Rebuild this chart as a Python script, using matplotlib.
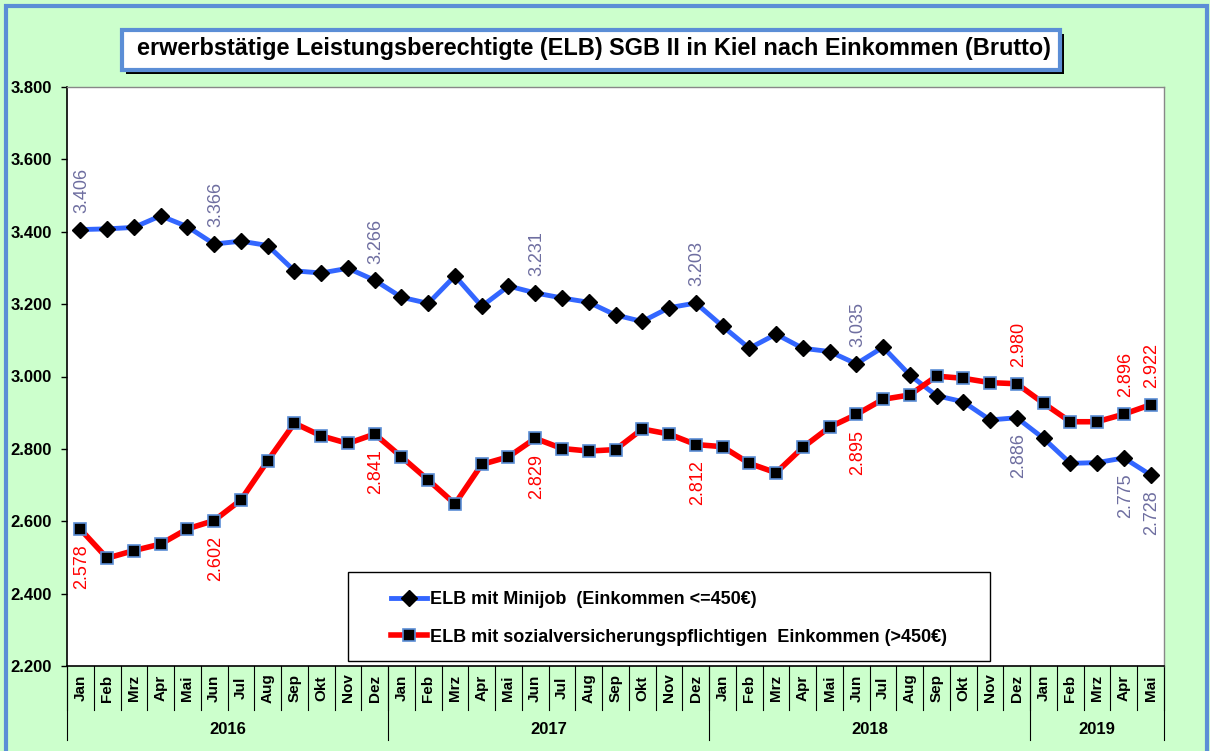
import matplotlib.pyplot as plt
import matplotlib.transforms as mtransforms
from matplotlib.patches import Rectangle
import numpy as np

plt.rcParams['font.family'] = ['Liberation Sans', 'DejaVu Sans']

# Daten
monate = ['Jan', 'Feb', 'Mrz', 'Apr', 'Mai', 'Jun', 'Jul', 'Aug', 'Sep', 'Okt', 'Nov', 'Dez']
jahre = ['2016', '2017', '2018', '2019']
monate_pro_jahr = [12, 12, 12, 5]

minijob = [3406, 3408, 3412, 3444, 3414, 3366, 3374, 3362, 3292, 3286, 3299, 3266,
           3219, 3202, 3278, 3194, 3250, 3231, 3217, 3205, 3170, 3152, 3190, 3203,
           3139, 3078, 3117, 3078, 3069, 3035, 3081, 3004, 2947, 2930, 2880, 2886,
           2829, 2760, 2762, 2775, 2728]
sozial = [2578, 2498, 2519, 2537, 2579, 2602, 2659, 2767, 2871, 2836, 2815, 2841,
          2778, 2714, 2648, 2757, 2778, 2829, 2801, 2794, 2798, 2855, 2841, 2812,
          2806, 2760, 2734, 2804, 2860, 2895, 2937, 2949, 3001, 2995, 2983, 2980,
          2926, 2875, 2875, 2896, 2922]

# beschriftete Punkte: (Index, oben?)
label_minijob = [(0, True), (5, True), (11, True), (17, True), (23, True), (29, True),
                 (35, False), (39, False), (40, False)]
label_sozial = [(0, False), (5, False), (11, False), (17, False), (23, False), (29, False),
                (35, True), (39, True), (40, True)]

titel = 'erwerbstätige Leistungsberechtigte (ELB) SGB II in Kiel nach Einkommen (Brutto)'
leg1 = 'ELB mit Minijob  (Einkommen <=450€)'
leg2 = 'ELB mit sozialversicherungspflichtigen  Einkommen (>450€)'

gruen = '#CCFFCC'
rahmen_blau = '#5B8ED6'
linie_blau = '#3366FF'
text_blau = '#6E6EA0'

def fmt(v):
    return '{:,}'.format(v).replace(',', '.')

W, H = 1210, 751
fig = plt.figure(figsize=(W / 100, H / 100), dpi=100)
fig.patch.set_facecolor(gruen)

# aeusserer Rahmen
fig.patches.append(Rectangle((6 / W, -0.05), 1201 / W, (745 / H) + 0.05,
                             transform=fig.transFigure, fill=False,
                             edgecolor=rahmen_blau, linewidth=3))

ax = fig.add_axes([67 / W, (H - 666) / H, (1164 - 67) / W, (666 - 87) / H])
ax.set_facecolor('white')

n = len(minijob)
x = np.arange(n)

ax.plot(x, minijob, color=linie_blau, linewidth=3.5, marker='D', markersize=8,
        markerfacecolor='black', markeredgecolor='black', label=leg1, zorder=3)
ax.plot(x, sozial, color='red', linewidth=4, marker='s', markersize=9,
        markerfacecolor='black', markeredgecolor=rahmen_blau, markeredgewidth=1.2,
        label=leg2, zorder=3)

for i, oben in label_minijob:
    ax.annotate(fmt(minijob[i]), (x[i], minijob[i]), xytext=(1, 12 if oben else -11),
                textcoords='offset points', rotation=90, ha='center',
                va='bottom' if oben else 'top', color=text_blau, fontsize=13)
for i, oben in label_sozial:
    ax.annotate(fmt(sozial[i]), (x[i], sozial[i]), xytext=(1, 12 if oben else -11),
                textcoords='offset points', rotation=90, ha='center',
                va='bottom' if oben else 'top', color='red', fontsize=13)

ax.set_xlim(-0.5, n - 0.5)
ax.set_ylim(2200, 3800)
ax.set_yticks(np.arange(2200, 3801, 200))
ax.set_yticklabels([fmt(v) for v in range(2200, 3801, 200)], fontweight='bold', fontsize=12)
ax.tick_params(axis='y', direction='out', length=4, width=1, pad=7)
ax.set_xticks([])

for s in ['top', 'right']:
    ax.spines[s].set_color('#888888')
    ax.spines[s].set_linewidth(1)
for s in ['left', 'bottom']:
    ax.spines[s].set_color('black')
    ax.spines[s].set_linewidth(1.2)

# Kategorienachse: Monate und Jahre
trans = mtransforms.blended_transform_factory(ax.transData, ax.transAxes)
px = 1 / (666 - 87)
labels = []
for m in monate_pro_jahr:
    labels += monate[:m]
for i, m in enumerate(labels):
    ax.text(i, -22 * px, m, transform=trans, rotation=90, ha='center', va='center',
            fontweight='bold', fontsize=11, clip_on=False)
for i in range(n + 1):
    ax.plot([i - 0.5, i - 0.5], [0, -44 * px], transform=trans, color='black',
            linewidth=0.8, clip_on=False)
start = 0
for j, m in zip(jahre, monate_pro_jahr):
    ax.plot([start - 0.5, start - 0.5], [0, -74 * px], transform=trans, color='black',
            linewidth=0.8, clip_on=False)
    ax.text(start + m / 2 - 0.5, -63 * px, j, transform=trans, ha='center', va='center',
            fontweight='bold', fontsize=12, clip_on=False)
    start += m
ax.plot([n - 0.5, n - 0.5], [0, -74 * px], transform=trans, color='black',
        linewidth=0.8, clip_on=False)

# Legende
fig.patches.append(Rectangle((348 / W, (H - 661) / H), 642 / W, 89 / H,
                             transform=fig.transFigure, facecolor='white',
                             edgecolor='black', linewidth=1, zorder=4))
leg = fig.legend(loc='upper left', bbox_to_anchor=(382 / W, (H - 582) / H),
                 frameon=False, prop={'weight': 'bold', 'size': 13}, borderpad=0,
                 handlelength=2.0, handletextpad=0.15, labelspacing=1.15)
leg.set_zorder(5)

# Titelbox mit Schatten
fig.patches.append(Rectangle((126 / W, (H - 74) / H), 938 / W, 40 / H,
                             transform=fig.transFigure, facecolor='black',
                             edgecolor='none', zorder=1))
fig.patches.append(Rectangle((122 / W, (H - 70) / H), 938 / W, 40 / H,
                             transform=fig.transFigure, facecolor='white',
                             edgecolor=rahmen_blau, linewidth=3, zorder=2))
fig.text(594 / W, (H - 49) / H, titel, ha='center', va='center',
         fontweight='bold', fontsize=16.9, zorder=3)

fig.savefig('out.png', dpi=100, facecolor=fig.get_facecolor())
